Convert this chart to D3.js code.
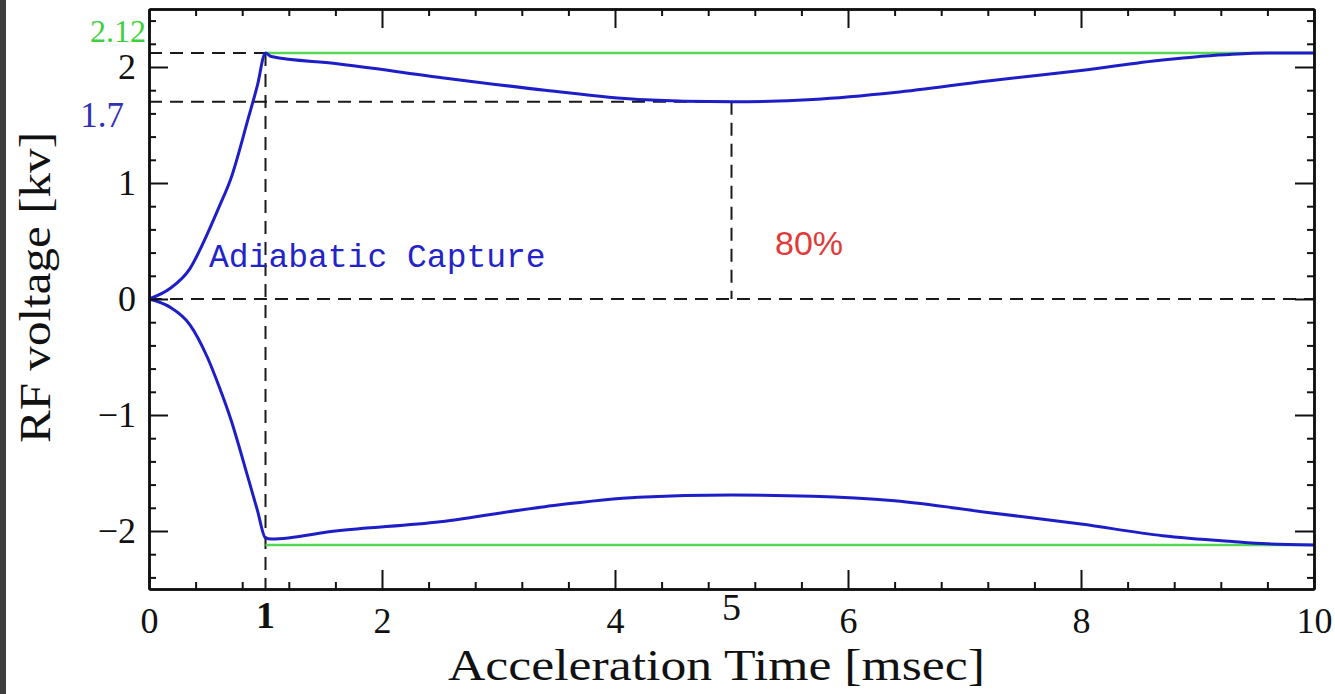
<!DOCTYPE html>
<html>
<head>
<meta charset="utf-8">
<script src="https://cdn.jsdelivr.net/npm/d3@7"></script>
<style>
  body { margin: 0; background: #fff; }
  svg { display: block; }
  .axis path, .axis line { stroke: #111; }
  .axis text { font-family: "Liberation Serif", serif; font-size: 36px; fill: #111; }
</style>
</head>
<body>
<script>
// svg size
var w = 1335;
var h = 694;

// paddings for left, right, top, bottom (frame of the plot)
var pdL = 149;
var pdR = 21;
var pdT = 9;
var pdB = 105;

// data
// time [msec]
var times     = [0, 0.18, 0.35, 0.5, 0.6, 0.7, 0.85, 0.93, 1.0, 1.05, 1.6, 2.5, 3.4, 4.2, 5.0, 5.7, 6.4, 7.2, 8.0, 8.7, 9.3, 9.6, 10];
// upper and lower RF voltage envelope [kv]
var voltUpper = [0, 0.09, 0.26, 0.56, 0.79, 1.03, 1.55, 1.84, 2.12, 2.09, 2.03, 1.91, 1.80, 1.72, 1.70, 1.72, 1.78, 1.88, 1.97, 2.06, 2.11, 2.12, 2.12];
var voltLower = [0, -0.07, -0.22, -0.50, -0.75, -1.03, -1.54, -1.82, -2.06, -2.07, -2.00, -1.92, -1.79, -1.71, -1.69, -1.70, -1.74, -1.84, -1.94, -2.04, -2.09, -2.11, -2.12];

// reference levels
var vMax = 2.12;
var vMin = 1.7;
var tCapture = 1;
var tMin = 5;

// ticks
var xTicks = [0, 2, 4, 6, 8, 10];
var xExtraTicks = [1, 5];
var yTicks = [-2, -1, 0, 1, 2];
var xMinorStep = 0.4;
var yMinorStep = 0.2;

// colours
var colBlue = "#1e1ec8";
var colGreen = "#55d955";
var colRed = "#e03a3a";
var colDash = "#1a1a1a";

// scales
var scaleX = d3.scaleLinear()
               .domain([0, 10])
               .range([pdL, w - pdR]);
var scaleY = d3.scaleLinear()
               .domain([-2.5, 2.5])
               .range([h - pdB, pdT]);

var xMinor = d3.range(0, 10 + 1e-9, xMinorStep).filter(function(d) {
    return Math.abs(d / 2 - Math.round(d / 2)) > 1e-6;
});
var yMinor = d3.range(-2.4, 2.4 + 1e-9, yMinorStep).filter(function(d) {
    return Math.abs(d - Math.round(d)) > 1e-6;
});

var svg = d3.select("body")
            .append("svg")
            .attr("width", w)
            .attr("height", h);

// dark strip on the left edge
svg.append("rect")
   .attr("x", 0).attr("y", 0)
   .attr("width", 6).attr("height", h)
   .attr("fill", "#3d3d3d");

// dashed guide lines
var dashes = [
    { x1: 0, y1: vMax, x2: tCapture, y2: vMax },
    { x1: 0, y1: vMin, x2: tMin, y2: vMin },
    { x1: 0, y1: 0, x2: 10, y2: 0 },
    { x1: tCapture, y1: vMax, x2: tCapture, y2: -2.5 },
    { x1: tMin, y1: vMin, x2: tMin, y2: 0 }
];
svg.selectAll(".dash")
   .data(dashes)
   .enter()
   .append("line")
   .attr("class", "dash")
   .attr("x1", function(d) { return scaleX(d.x1); })
   .attr("y1", function(d) { return scaleY(d.y1); })
   .attr("x2", function(d) { return scaleX(d.x2); })
   .attr("y2", function(d) { return scaleY(d.y2); })
   .attr("stroke", colDash)
   .attr("stroke-width", 2)
   .attr("stroke-dasharray", "13,8");

// green limits
svg.selectAll(".limit")
   .data([vMax, -vMax])
   .enter()
   .append("line")
   .attr("class", "limit")
   .attr("x1", scaleX(tCapture))
   .attr("x2", scaleX(10))
   .attr("y1", function(d) { return scaleY(d); })
   .attr("y2", function(d) { return scaleY(d); })
   .attr("stroke", colGreen)
   .attr("stroke-width", 2.5);

// blue curves
var line = d3.line()
             .curve(d3.curveMonotoneX)
             .x(function(d) { return scaleX(d[0]); })
             .y(function(d) { return scaleY(d[1]); });

[voltUpper, voltLower].forEach(function(vals) {
    var pts = times.map(function(t, i) { return [t, vals[i]]; });
    svg.append("path")
       .datum(pts)
       .attr("d", line)
       .attr("fill", "none")
       .attr("stroke", colBlue)
       .attr("stroke-width", 3)
       .attr("stroke-linejoin", "round");
});

// axes, ticks point inwards on all four sides
var major = 19;
var minor = 7;

svg.append("g")
   .attr("class", "axis")
   .attr("transform", "translate(0," + (h - pdB) + ")")
   .call(d3.axisBottom(scaleX).tickValues(xTicks).tickSize(-major).tickSizeOuter(0).tickPadding(18).tickFormat(d3.format("d")));
svg.append("g")
   .attr("class", "axis")
   .attr("transform", "translate(0," + (h - pdB) + ")")
   .call(d3.axisBottom(scaleX).tickValues(xMinor).tickSize(-minor).tickSizeOuter(0).tickFormat(""));
svg.append("g")
   .attr("class", "axis")
   .attr("transform", "translate(0," + pdT + ")")
   .call(d3.axisTop(scaleX).tickValues(xTicks).tickSize(-major).tickSizeOuter(0).tickFormat(""));
svg.append("g")
   .attr("class", "axis")
   .attr("transform", "translate(0," + pdT + ")")
   .call(d3.axisTop(scaleX).tickValues(xMinor).tickSize(-minor).tickSizeOuter(0).tickFormat(""));
svg.append("g")
   .attr("class", "axis")
   .attr("transform", "translate(" + pdL + ",0)")
   .call(d3.axisLeft(scaleY).tickValues(yTicks).tickSize(-major).tickSizeOuter(0).tickPadding(13).tickFormat(d3.format("d")));
svg.append("g")
   .attr("class", "axis")
   .attr("transform", "translate(" + pdL + ",0)")
   .call(d3.axisLeft(scaleY).tickValues(yMinor).tickSize(-minor).tickSizeOuter(0).tickFormat(""));
svg.append("g")
   .attr("class", "axis")
   .attr("transform", "translate(" + (w - pdR) + ",0)")
   .call(d3.axisRight(scaleY).tickValues(yTicks).tickSize(-major).tickSizeOuter(0).tickFormat(""));
svg.append("g")
   .attr("class", "axis")
   .attr("transform", "translate(" + (w - pdR) + ",0)")
   .call(d3.axisRight(scaleY).tickValues(yMinor).tickSize(-minor).tickSizeOuter(0).tickFormat(""));

svg.selectAll(".axis .domain").attr("stroke-width", 2.5);
svg.selectAll(".axis .tick line").attr("stroke-width", 2);

// extra labels 1 and 5 under the x axis
svg.selectAll(".xextra")
   .data(xExtraTicks)
   .enter()
   .append("text")
   .attr("class", "xextra")
   .attr("x", function(d) { return scaleX(d); })
   .attr("y", function(d) { return d === tMin ? 620 : 628; })
   .attr("text-anchor", "middle")
   .style("font-family", "Liberation Serif, serif")
   .style("font-size", "38px")
   .style("font-weight", function(d) { return d === tCapture ? "bold" : "normal"; })
   .attr("fill", "#111")
   .text(function(d) { return d; });

// axis titles
svg.append("text")
   .attr("x", 448)
   .attr("y", 680)
   .attr("textLength", 537)
   .attr("lengthAdjust", "spacingAndGlyphs")
   .style("font-family", "Liberation Serif, serif")
   .style("font-size", "44px")
   .attr("fill", "#111")
   .text("Acceleration Time [msec]");

svg.append("text")
   .attr("transform", "translate(50," + 443 + ") rotate(-90)")
   .attr("textLength", 311)
   .attr("lengthAdjust", "spacingAndGlyphs")
   .style("font-family", "Liberation Serif, serif")
   .style("font-size", "44px")
   .attr("fill", "#111")
   .text("RF voltage [kv]");

// annotations
svg.append("text")
   .attr("x", 146).attr("y", 42)
   .attr("text-anchor", "end")
   .style("font-family", "Liberation Serif, serif")
   .style("font-size", "32px")
   .attr("fill", "#3fcf3f")
   .text(vMax);

svg.append("text")
   .attr("x", 124).attr("y", 127)
   .attr("text-anchor", "end")
   .style("font-family", "Liberation Serif, serif")
   .style("font-size", "35px")
   .attr("fill", "#3030b8")
   .text(vMin);

svg.append("text")
   .attr("x", 775).attr("y", 255)
   .style("font-family", "Liberation Sans, sans-serif")
   .style("font-size", "34px")
   .attr("fill", colRed)
   .text("80%");

svg.append("text")
   .attr("x", 209).attr("y", 267)
   .style("font-family", "Liberation Mono, monospace")
   .style("font-size", "33px")
   .attr("fill", "#2323c8")
   .text("Adiabatic Capture");
</script>
</body>
</html>
